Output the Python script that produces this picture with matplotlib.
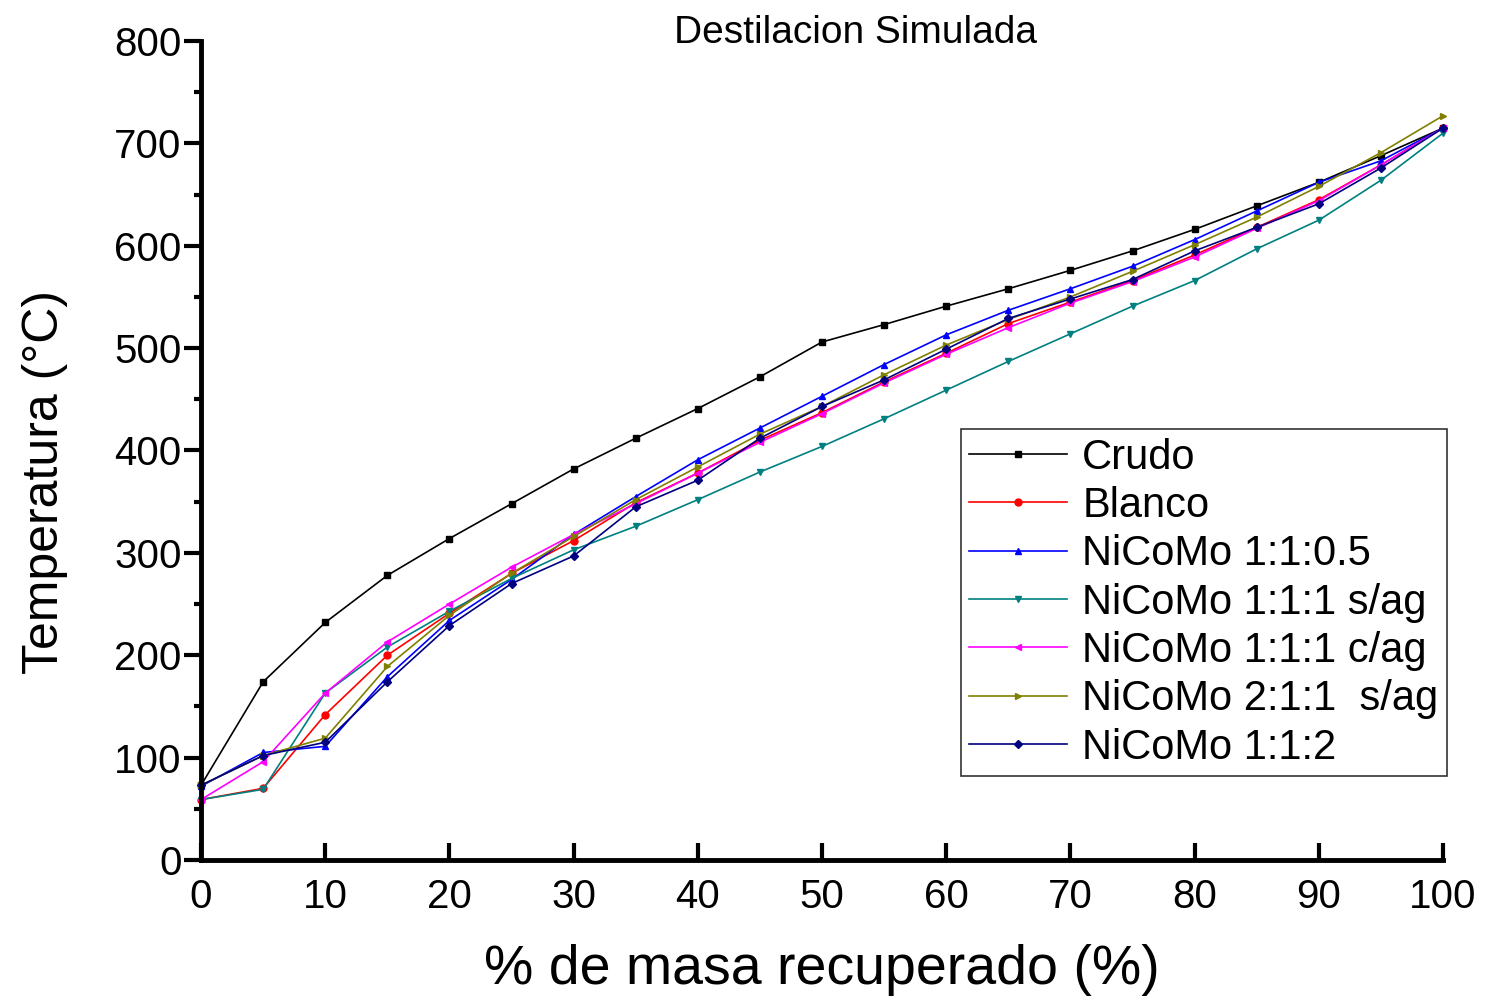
import matplotlib
matplotlib.use("Agg")
import matplotlib.pyplot as plt
from matplotlib.ticker import MultipleLocator

plt.rcParams['font.family'] = ['Liberation Sans', 'DejaVu Sans']

# ---------- DATA ----------
masa = [0, 5, 10, 15, 20, 25, 30, 35, 40, 45, 50,
        55, 60, 65, 70, 75, 80, 85, 90, 95, 100]

crudo = [73, 174, 232, 278, 314, 348, 382, 412, 441, 472, 506,
         523, 541, 558, 576, 595, 616, 639, 662, 688, 715]
blanco = [59, 70, 142, 200, 241, 280, 312, 349, 378, 410, 437,
          467, 495, 524, 545, 566, 591, 618, 645, 679, 715]
nicomo_105 = [72, 105, 111, 179, 234, 274, 318, 355, 391, 422, 453,
              484, 513, 537, 558, 580, 606, 634, 662, 683, 715]
nicomo_111s = [59, 69, 163, 208, 243, 275, 303, 326, 352, 379, 404,
               431, 459, 487, 514, 541, 566, 597, 625, 664, 710]
nicomo_111c = [59, 96, 163, 213, 250, 286, 318, 348, 378, 408, 436,
               466, 494, 520, 544, 565, 589, 617, 644, 679, 715]
nicomo_211s = [73, 102, 119, 189, 239, 280, 316, 352, 384, 416, 443,
               474, 503, 528, 550, 575, 601, 628, 658, 691, 727]
nicomo_112 = [73, 102, 115, 174, 229, 270, 297, 345, 371, 412, 443,
              469, 499, 529, 548, 567, 595, 618, 641, 676, 715]

series = [
    ("Crudo", crudo, "#000000", "s"),
    ("Blanco", blanco, "#FF0000", "o"),
    ("NiCoMo 1:1:0.5", nicomo_105, "#0000FF", "^"),
    ("NiCoMo 1:1:1 s/ag", nicomo_111s, "#008080", "v"),
    ("NiCoMo 1:1:1 c/ag", nicomo_111c, "#FF00FF", "<"),
    ("NiCoMo 2:1:1  s/ag", nicomo_211s, "#808000", ">"),
    ("NiCoMo 1:1:2", nicomo_112, "#000080", "D"),
]

# ---------- PLOT ----------
fig = plt.figure(figsize=(14.86, 9.98), dpi=100)
ax = fig.add_axes([0.1353, 0.1383, 0.8358, 0.8206])

for label, vals, color, marker in series:
    ms = 4 if marker == "D" else 5
    ax.plot(masa, vals, color=color, marker=marker, markersize=ms,
            linewidth=1.2, label=label, clip_on=False)

ax.set_xlim(0, 100)
ax.set_ylim(0, 800)
ax.xaxis.set_major_locator(MultipleLocator(10))
ax.yaxis.set_major_locator(MultipleLocator(100))
ax.yaxis.set_minor_locator(MultipleLocator(50))

for side in ["top", "right"]:
    ax.spines[side].set_visible(False)
for side in ["left", "bottom"]:
    ax.spines[side].set_linewidth(3.5)

# y ticks point out, x ticks point in
ax.tick_params(axis="y", which="major", direction="out", length=12,
               width=3, labelsize=29, pad=2)
ax.tick_params(axis="y", which="minor", direction="out", length=5, width=3)
ax.tick_params(axis="x", which="major", direction="in", length=12,
               width=3, labelsize=29, pad=13)

ax.set_xlabel("% de masa recuperado (%)", fontsize=40)
ax.set_ylabel("Temperatura (°C)", fontsize=36)
ax.xaxis.set_label_coords(0.5, -0.102)
ax.yaxis.set_label_coords(-0.107, 0.4615)
ax.text(0.5266, 1.01, "Destilacion Simulada", transform=ax.transAxes,
        ha="center", va="center", fontsize=28)

leg = ax.legend(loc="lower right", bbox_to_anchor=(1.003, 0.1026),
                fontsize=30, frameon=True, fancybox=False,
                handlelength=2.35, handletextpad=0.36, borderpad=0.2,
                labelspacing=0.2, borderaxespad=0)
leg.get_frame().set_edgecolor("black")
leg.get_frame().set_linewidth(1.2)

fig.savefig("out.png", dpi=100)
